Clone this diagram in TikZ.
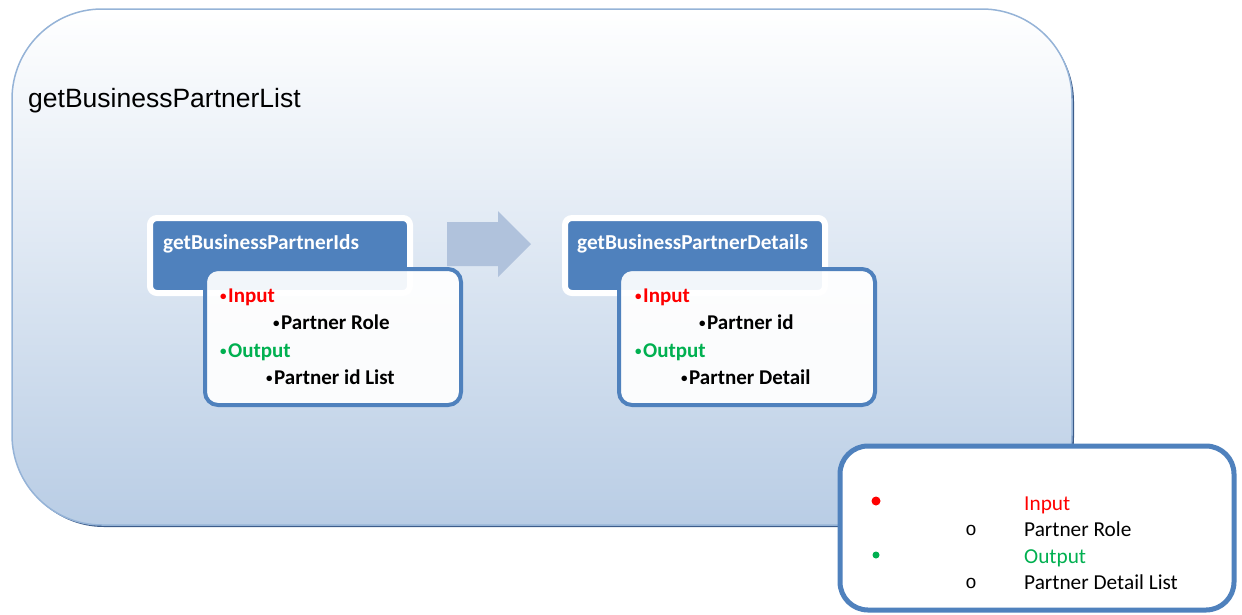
\documentclass[tikz,border=0pt]{standalone}
\usepackage{fontspec}
\setmainfont{Carlito}
\newfontfamily\arialf{Liberation Sans}
\newfontfamily\courf{Liberation Mono}
\definecolor{bgblue}{RGB}{185,205,229}
\definecolor{edgeblue}{RGB}{149,179,215}
\definecolor{shadowblue}{RGB}{60,92,138}
\definecolor{headblue}{RGB}{79,129,189}
\definecolor{arrowblue}{RGB}{176,194,220}
\definecolor{myred}{RGB}{255,0,0}
\definecolor{mygreen}{RGB}{0,176,80}
\newcommand{\mybul}{\raisebox{1.2pt}{\fontsize{13}{13}\selectfont\textbullet}\hspace{1.5pt}}
\tikzset{
  headbox/.style={draw=white, line width=6pt, fill=headblue, rounded corners=7pt},
  contentbox/.style={draw=headblue, line width=4pt, fill=white, fill opacity=0.93, rounded corners=13pt},
  txt/.style={inner sep=0pt, anchor=base west, font=\fontsize{21}{24}\selectfont\bfseries},
  headtxt/.style={txt, text=white, font=\fontsize{21.3}{24}\selectfont\bfseries},
  legtxt/.style={inner sep=0pt, anchor=base west, font=\fontsize{21.3}{24}\selectfont},
  circtxt/.style={inner sep=0pt, anchor=center, font=\courf\fontsize{19}{22}\selectfont},
}
\begin{document}
\begin{tikzpicture}[x=1pt,y=-1pt]
\useasboundingbox (0,0) rectangle (1242,614);
% outer container
\fill[shadowblue, rounded corners=90pt] (14,12) rectangle (1074,527);
\shade[top color=white, bottom color=bgblue, rounded corners=90pt] (12,9) rectangle (1072,525);
\draw[edgeblue, line width=1.5pt, rounded corners=90pt] (12,9) rectangle (1072,525);
\node[inner sep=0pt, anchor=base west, font=\arialf\fontsize{26.5}{30}\selectfont] (title) at (28,107) {getBusinessPartnerList};

% block arrow
\fill[arrowblue] (447,222) -- (498,222) -- (498,211) -- (531,244) -- (498,277) -- (498,266) -- (447,266) -- cycle;

% box 1
\draw[headbox] (150,218) rectangle (410,293);
\node[headtxt] (h1) at (163,249) {getBusinessPartnerIds};
\draw[contentbox] (205,269) rectangle (461,405);
\node[txt, text=myred] (in1) at (220,302) {\mybul Input};
\node[txt] (pr1) at (273,329) {\mybul Partner Role};
\node[txt, text=mygreen] (out1) at (220,357) {\mybul Output};
\node[txt] (pl1) at (266,384) {\mybul Partner id List};

% box 2
\draw[headbox] (565,218) rectangle (825,293);
\node[headtxt] (h2) at (577,249) {getBusinessPartnerDetails};
\draw[contentbox] (619,269) rectangle (875,405);
\node[txt, text=myred] (in2) at (635,302) {\mybul Input};
\node[txt] (pi2) at (699,329) {\mybul Partner id};
\node[txt, text=mygreen] (out2) at (635,357) {\mybul Output};
\node[txt] (pd2) at (681,384) {\mybul Partner Detail};

% legend
\draw[draw=headblue, line width=5pt, fill=white, rounded corners=28pt] (840,446) rectangle (1234,610);
\fill[myred] (876,501) circle (4.5pt);
\fill[mygreen] (876,555) circle (3.5pt);
\node[circtxt] (c1) at (971,530) {o};
\node[circtxt] (c2) at (971,583) {o};
\node[legtxt, text=myred] (lin) at (1024,510) {Input};
\node[legtxt] (lpr) at (1024,536) {Partner Role};
\node[legtxt, text=mygreen] (lout) at (1024,563) {Output};
\node[legtxt] (lpd) at (1024,589) {Partner Detail List};
\end{tikzpicture}
\end{document}
